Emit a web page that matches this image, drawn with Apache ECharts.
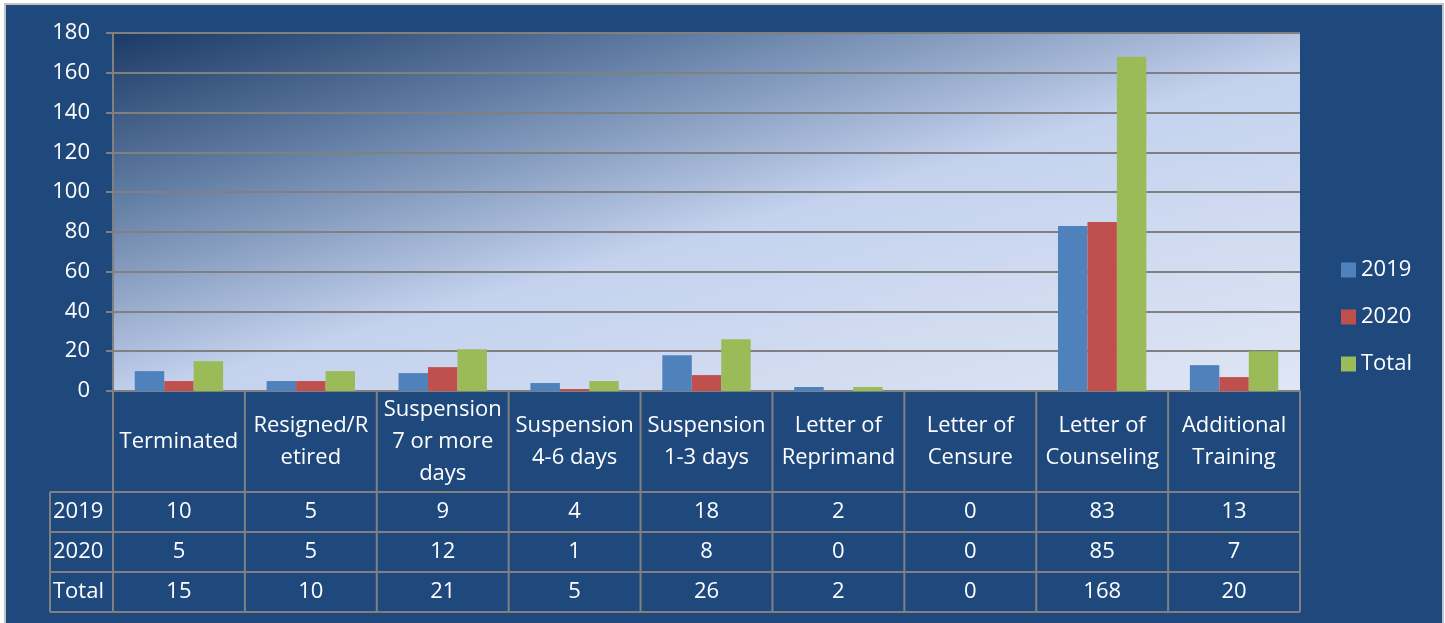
<!DOCTYPE html>
<html>
<head>
<meta charset="utf-8">
<script src="https://cdn.jsdelivr.net/npm/echarts@6/dist/echarts.min.js"></script>
<style>
  html, body { margin: 0; padding: 0; background: #ffffff; }
  #frame { position: absolute; left: 4px; top: 3px; width: 1436px; height: 630px; background: #1f497d; border: 2px solid #c4c4c4; }
  #main { position: absolute; left: 0; top: 0; width: 1445px; height: 623px; }
</style>
</head>
<body>
<div id="frame"></div>
<div id="main"></div>
<script>
var categories = ['Terminated', 'Resigned/R\netired', 'Suspension\n7 or more\ndays', 'Suspension\n4-6 days',
    'Suspension\n1-3 days', 'Letter of\nReprimand', 'Letter of\nCensure', 'Letter of\nCounseling', 'Additional\nTraining'];
var seriesNames = ['2019', '2020', 'Total'];
var values2019 = [10, 5, 9, 4, 18, 2, 0, 83, 13];
var values2020 = [5, 5, 12, 1, 8, 0, 0, 85, 7];
var valuesTotal = [15, 10, 21, 5, 26, 2, 0, 168, 20];
var colors = ['#4f81bd', '#c0504d', '#9bbb59'];

var font = '"Open Sans", "Liberation Sans", sans-serif';
var fontSize = 22;
var myChart = echarts.init(document.getElementById('main'));

var rows = [values2019, values2020, valuesTotal];

myChart.setOption({
    animation: false,
    backgroundColor: 'transparent',
    textStyle: { fontFamily: font },
    grid: {
        left: 113, right: 145, top: 33, bottom: 232,
        show: true,
        borderWidth: 0,
        // diagonal fill: dark top-left corner fading to pale blue
        backgroundColor: new echarts.graphic.LinearGradient(0, 0, 0.154, 1.8, [
            { offset: 0, color: '#1c3a66' },
            { offset: 0.25, color: '#6580a6' },
            { offset: 0.53, color: '#c4d2ee' },
            { offset: 1, color: '#dfe6f4' }
        ])
    },
    legend: {
        orient: 'vertical',
        left: 1341,
        top: 259,
        padding: 0,
        itemWidth: 15,
        itemHeight: 15,
        itemGap: 25,
        icon: 'rect',
        textStyle: { color: '#ffffff', fontSize: fontSize, fontFamily: font },
        data: seriesNames
    },
    xAxis: {
        type: 'category',
        data: categories,
        axisLine: { lineStyle: { color: '#808080', width: 2 } },
        axisTick: { show: false },
        axisLabel: { show: false }
    },
    yAxis: {
        type: 'value',
        min: 0,
        max: 180,
        interval: 20,
        axisLine: { show: true, lineStyle: { color: '#808080', width: 2 } },
        axisTick: { show: true, length: 7, lineStyle: { color: '#808080', width: 2 } },
        axisLabel: { color: '#ffffff', fontSize: fontSize, margin: 23, fontFamily: font },
        splitLine: { lineStyle: { color: '#808080', width: 2 } }
    },
    series: seriesNames.map(function (name, i) {
        return {
            name: name,
            type: 'bar',
            data: rows[i],
            barGap: 0,
            barCategoryGap: '33%',
            itemStyle: { color: colors[i] }
        };
    })
});

// data table under the plot
var tableTop = 391, headerBottom = 492, rowH = 40, tableLeft = 50, plotLeft = 113, plotRight = 1300;
var lineStyle = { stroke: '#808080', lineWidth: 2 };
var textFont = fontSize + 'px ' + font;
var g = [];
var colW = (plotRight - plotLeft) / categories.length;
for (var c = 0; c <= categories.length; c++) {
    var x = plotLeft + c * colW;
    g.push({ type: 'line', shape: { x1: x, y1: tableTop, x2: x, y2: headerBottom + 3 * rowH }, style: lineStyle });
}
g.push({ type: 'line', shape: { x1: tableLeft, y1: headerBottom, x2: tableLeft, y2: headerBottom + 3 * rowH }, style: lineStyle });
for (var r = 0; r <= 3; r++) {
    var y = headerBottom + r * rowH;
    g.push({ type: 'line', shape: { x1: tableLeft, y1: y, x2: plotRight, y2: y }, style: lineStyle });
}
categories.forEach(function (cat, i) {
    var cx = myChart.convertToPixel({ xAxisIndex: 0 }, i);
    g.push({
        type: 'text', x: cx, y: (tableTop + headerBottom) / 2,
        style: { text: cat, fill: '#ffffff', font: textFont, align: 'center', verticalAlign: 'middle', lineHeight: 32 }
    });
    rows.forEach(function (row, r) {
        g.push({
            type: 'text', x: cx, y: headerBottom + r * rowH + rowH / 2,
            style: { text: String(row[i]), fill: '#ffffff', font: textFont, align: 'center', verticalAlign: 'middle' }
        });
    });
});
seriesNames.forEach(function (name, r) {
    g.push({
        type: 'text', x: tableLeft + 3, y: headerBottom + r * rowH + rowH / 2,
        style: { text: name, fill: '#ffffff', font: textFont, align: 'left', verticalAlign: 'middle' }
    });
});
myChart.setOption({ graphic: g });
</script>
</body>
</html>
